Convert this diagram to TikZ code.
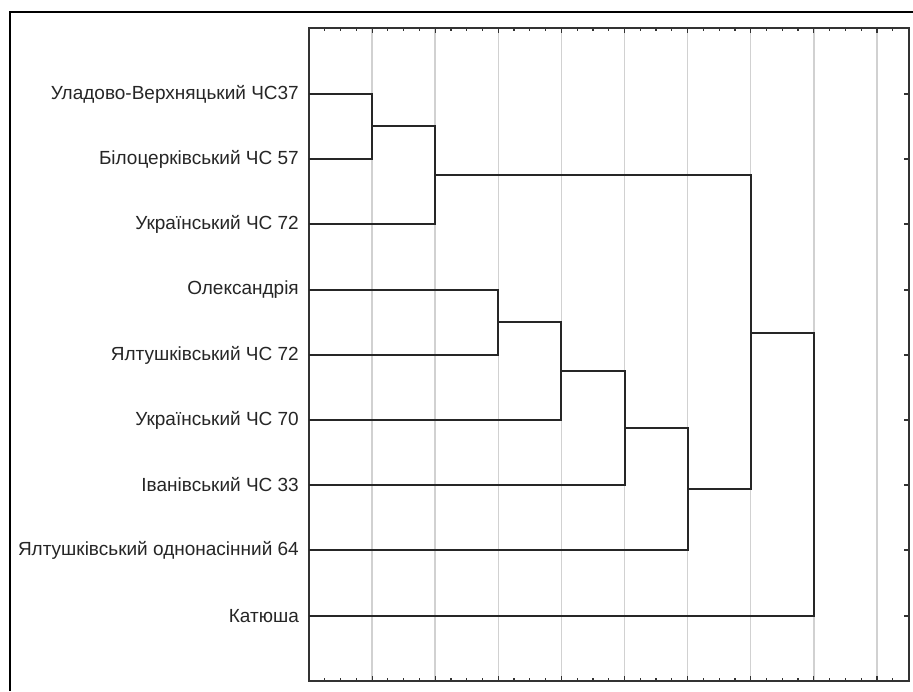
\documentclass[tikz,border=0pt]{standalone}
\usepackage{fontspec}
\setmainfont{Liberation Sans}
\begin{document}
\begin{tikzpicture}[x=1pt,y=-1pt,
  lab/.style={anchor=east,inner sep=0pt,font=\fontsize{19}{21}\selectfont,text=black!85},
  dendro/.style={draw=black!85,line width=1.8pt},
  gridln/.style={draw=black!18,line width=1.5pt},
  frameln/.style={draw=black!80,line width=1.8pt},
  tickln/.style={draw=black!80,line width=1.2pt}]
\useasboundingbox (0,0) rectangle (913,691);
\fill[white] (0,0) rectangle (913,691);
% outer frame
\draw[line width=2.5pt,black] (10,691) -- (10,12) -- (913,12);
% grid
\foreach \k in {1,...,9}{
  \draw[gridln] ({309+63.1*\k},28) -- ({309+63.1*\k},681);
}
% ticks
\foreach \k in {0,...,9}{
  \draw[tickln] ({309+63.1*\k},28) -- ({309+63.1*\k},33);
  \draw[tickln] ({309+63.1*\k},681) -- ({309+63.1*\k},676);
  \foreach \j in {1,2,3}{
    \draw[tickln] ({309+63.1*\k+15.775*\j},28) -- ({309+63.1*\k+15.775*\j},31);
    \draw[tickln] ({309+63.1*\k+15.775*\j},681) -- ({309+63.1*\k+15.775*\j},678);
  }
}
\foreach \y in {94,159,224,290,355,420,485,550,616}{
  \draw[tickln] (909,\y) -- (904,\y);
}
% plot frame
\draw[frameln] (309,28) rectangle (909,681);
% labels
\node[lab] (t1) at (299,94) {Уладово-Верхняцький ЧС37};
\node[lab] (t2) at (299,159) {Білоцерківський ЧС 57};
\node[lab] (t3) at (299,224) {Український ЧС 72};
\node[lab] (t4) at (299,290) {Олександрія};
\node[lab] (t5) at (299,355) {Ялтушківський ЧС 72};
\node[lab] (t6) at (299,420) {Український ЧС 70};
\node[lab] (t7) at (299,485) {Іванівський ЧС 33};
\node[lab] (t8) at (299,550) {Ялтушківський однонасінний 64};
\node[lab] (t9) at (299,616) {Катюша};
% leaf points
\coordinate (l1) at (309,94);
\coordinate (l2) at (309,159);
\coordinate (l3) at (309,224);
\coordinate (l4) at (309,290);
\coordinate (l5) at (309,355);
\coordinate (l6) at (309,420);
\coordinate (l7) at (309,485);
\coordinate (l8) at (309,550);
\coordinate (l9) at (309,616);
% merge points
\coordinate (m1) at (372,126);
\coordinate (m2) at (435,175);
\coordinate (m3) at (498,322);
\coordinate (m4) at (561,371);
\coordinate (m5) at (625,428);
\coordinate (m6) at (688,489);
\coordinate (m7) at (751,333);
\coordinate (m8) at (814,474);
\draw[dendro] (l1) -| (m1) |- (l2);
\draw[dendro] (m1) -| (m2) |- (l3);
\draw[dendro] (l4) -| (m3) |- (l5);
\draw[dendro] (m3) -| (m4) |- (l6);
\draw[dendro] (m4) -| (m5) |- (l7);
\draw[dendro] (m5) -| (m6) |- (l8);
\draw[dendro] (m2) -| (m7) |- (m6);
\draw[dendro] (m7) -| (m8) |- (l9);
\end{tikzpicture}
\end{document}
